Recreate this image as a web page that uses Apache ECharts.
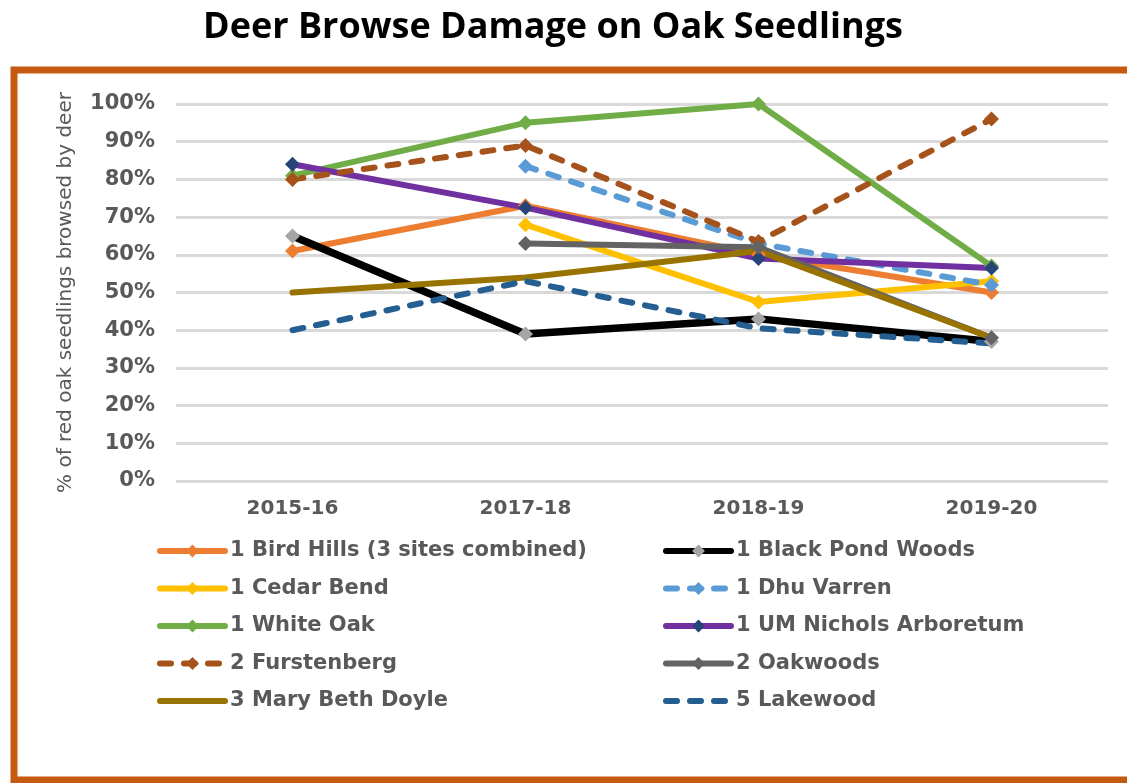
<!DOCTYPE html>
<html>
<head>
<meta charset="utf-8">
<script src="https://cdn.jsdelivr.net/npm/echarts@6/dist/echarts.min.js"></script>
<style>html,body{margin:0;padding:0;background:#fff;}#c{width:1127px;height:783px;}</style>
</head>
<body>
<div id="c"></div>
<script>
const categories = ['2015-16', '2017-18', '2018-19', '2019-20'];
const birdHills      = [61, 73, 60, 50];
const blackPond      = [65, 39, 43, 37];
const cedarBend      = [null, 68, 47.5, 53];
const dhuVarren      = [null, 83.5, 63, 52];
const whiteOak       = [81, 95, 100, 57];
const umNichols      = [84, 72.5, 59, 56.5];
const furstenberg    = [80, 89, 63.5, 96];
const oakwoods       = [null, 63, 62, 38];
const maryBethDoyle  = [50, 54, 61, 38];
const lakewood       = [40, 53, 40.5, 36.5];
const yTicks = [0, 10, 20, 30, 40, 50, 60, 70, 80, 90, 100];

const FONT = 'DejaVu Sans';
function mk(name, data, color, markerColor, opts) {
  opts = opts || {};
  return {
    name: name, type: 'line', data: data,
    symbol: opts.noMarker ? 'none' : 'diamond',
    symbolSize: 15,
    showSymbol: !opts.noMarker,
    connectNulls: false,
    itemStyle: { color: markerColor || color },
    lineStyle: { color: color, width: opts.width || 6, type: opts.dash ? [11, 13] : 'solid', cap: 'round' },
    emphasis: { disabled: true },
    animation: false
  };
}
const series = [
  mk('1 Bird Hills (3 sites combined)', birdHills, '#ED7D31'),
  mk('1 Black Pond Woods', blackPond, '#000000', '#A5A5A5', {width: 7.5}),
  mk('1 Cedar Bend', cedarBend, '#FFC000'),
  mk('1 Dhu Varren', dhuVarren, '#5B9BD5', null, {dash: true}),
  mk('1 White Oak', whiteOak, '#70AD47'),
  mk('1 UM Nichols Arboretum', umNichols, '#7030A0', '#264478'),
  mk('2 Furstenberg', furstenberg, '#A5521B', null, {dash: true}),
  mk('2 Oakwoods', oakwoods, '#636363'),
  mk('3 Mary Beth Doyle', maryBethDoyle, '#997300', null, {noMarker: true}),
  mk('5 Lakewood', lakewood, '#255E91', null, {dash: true, noMarker: true})
];
const noIcon = { itemStyle: { opacity: 0 } };
const legendBase = {
  orient: 'vertical', itemWidth: 65, itemHeight: 16, itemGap: 15.5, padding: 0,
  lineStyle: { width: 6 },
  textStyle: { fontFamily: FONT, fontWeight: 'bold', fontSize: 21, color: '#595959', lineHeight: 22 },
  selectedMode: false, top: 540
};
const chart = echarts.init(document.getElementById('c'), null, { renderer: 'canvas' });
chart.setOption({
  backgroundColor: '#fff',
  animation: false,
  title: {
    text: 'Deer Browse Damage on Oak Seedlings', left: 198, top: 5,
    textStyle: { fontFamily: 'Open Sans', fontWeight: 'bold', fontSize: 36, color: '#000' }
  },
  graphic: [{
    type: 'rect', shape: { x: 14, y: 70, width: 1130, height: 710 },
    style: { fill: 'none', stroke: '#C55A11', lineWidth: 7 }, z: -1
  }],
  grid: { left: 176, right: 19, top: 104, bottom: 302 },
  legend: [
    Object.assign({}, legendBase, { left: 157, data: ['1 Bird Hills (3 sites combined)', '1 Cedar Bend', '1 White Oak', '2 Furstenberg',
      Object.assign({ name: '3 Mary Beth Doyle' }, noIcon)] }),
    Object.assign({}, legendBase, { left: 663, data: ['1 Black Pond Woods', '1 Dhu Varren', '1 UM Nichols Arboretum', '2 Oakwoods',
      Object.assign({ name: '5 Lakewood' }, noIcon)] })
  ],
  xAxis: {
    type: 'category', data: categories, boundaryGap: true,
    axisLine: { show: false }, axisTick: { show: false },
    axisLabel: { fontFamily: FONT, fontWeight: 'bold', fontSize: 20, color: '#595959', margin: 18 }
  },
  yAxis: {
    type: 'value', min: 0, max: 100, interval: 10,
    name: '% of red oak seedlings browsed by deer', nameLocation: 'middle', nameGap: 100, nameRotate: 90,
    nameTextStyle: { fontFamily: FONT, fontSize: 20, color: '#595959' },
    axisLabel: { fontFamily: FONT, fontWeight: 'bold', fontSize: 21, color: '#595959', margin: 21,
      formatter: v => yTicks.indexOf(v) >= 0 ? v + '%' : '' },
    splitLine: { lineStyle: { color: '#D9D9D9', width: 3 } },
    axisLine: { show: false }, axisTick: { show: false }
  },
  series: series
});
</script>
</body>
</html>
